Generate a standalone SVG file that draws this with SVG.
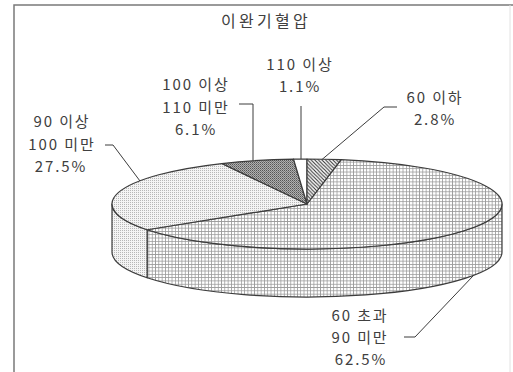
<svg xmlns="http://www.w3.org/2000/svg" width="513" height="372" viewBox="0 0 513 372">
<style>
.lbl{font-family:"Noto Sans CJK KR","Liberation Sans",sans-serif;font-size:15px;fill:#404040;text-anchor:middle;letter-spacing:1.9px}
.ttl{font-family:"Noto Sans CJK KR","Liberation Sans",sans-serif;font-size:16px;fill:#404040;text-anchor:middle;letter-spacing:3.3px}
.edge{stroke:#3c3c3c;stroke-width:1.2;stroke-linejoin:round}
.lead{fill:none;stroke:#3c3c3c;stroke-width:1}
</style>
<defs>
<pattern id="grid" width="3.3" height="3.3" patternUnits="userSpaceOnUse">
<rect width="3.3" height="3.3" fill="#fff"/>
<path d="M0,0.4H3.3M0.4,0V3.3" stroke="#9a9a9a" stroke-width="0.8"/>
</pattern>
<pattern id="dots" width="2" height="2" patternUnits="userSpaceOnUse">
<rect width="2" height="2" fill="#f4f4f4"/>
<rect width="0.9" height="0.9" fill="#a8a8a8"/>
</pattern>
<pattern id="dark" width="2" height="2" patternUnits="userSpaceOnUse">
<rect width="2" height="2" fill="#b0b0b0"/>
<rect width="1" height="1" fill="#555"/>
<rect x="1" y="1" width="1" height="1" fill="#7a7a7a"/>
</pattern>
<pattern id="hatch" width="3.6" height="3.6" patternUnits="userSpaceOnUse">
<rect width="3.6" height="3.6" fill="#fff"/>
<path d="M-1,-1L4.6,4.6M-1,2.6L1,4.6M2.6,-1L4.6,1" stroke="#333" stroke-width="1.1"/>
</pattern>
</defs>
<rect width="513" height="372" fill="#fff"/>
<g id="frame">
<path d="M14,372V5H513" fill="none" stroke="#7a7a7a" stroke-width="1.5"/>
<path d="M510,5V372" fill="none" stroke="#e2e2e2" stroke-width="1"/>
</g>
<text class="ttl" x="266" y="27">이완기혈압</text>
<g id="slice-60-90">
<path class="edge" fill="url(#grid)" d="M502,204A195,45 0 0 1 147.1,229.76L147.1,277.76A195,45 0 0 0 502,252Z"/>
<path class="edge" fill="url(#grid)" d="M307,204L341.13,159.69A195,45 0 1 1 147.1,229.76Z"/>
</g>
<g id="slice-90-100">
<path class="edge" fill="url(#dots)" d="M147.1,229.76A195,45 0 0 1 112,204L112,252A195,45 0 0 0 147.1,277.76Z"/>
<path class="edge" fill="url(#dots)" d="M307,204L147.1,229.76A195,45 0 0 1 221.77,163.53Z"/>
</g>
<g id="slice-100-110">
<path class="edge" fill="url(#dark)" d="M307,204L221.77,163.53A195,45 0 0 1 293.53,159.11Z"/>
</g>
<g id="slice-110">
<path class="edge" fill="#fff" d="M307,204L293.53,159.11A195,45 0 0 1 307,159Z"/>
</g>
<g id="slice-60">
<path class="edge" fill="url(#hatch)" d="M307,204L307,159A195,45 0 0 1 341.13,159.69Z"/>
</g>
<g id="connectors">
<path class="lead" d="M301,106V159"/>
<path class="lead" d="M397,107H384L322,159.5"/>
<path class="lead" d="M239,104H253V161"/>
<path class="lead" d="M105,145H113L140,181"/>
<path class="lead" d="M404,337H415L473,276"/>
</g>
<g id="label-110">
<text class="lbl" x="300" y="70">110 이상</text>
<text class="lbl" x="300" y="92">1.1%</text>
</g>
<g id="label-60">
<text class="lbl" x="435" y="103">60 이하</text>
<text class="lbl" x="435" y="125">2.8%</text>
</g>
<g id="label-100-110">
<text class="lbl" x="196" y="90">100 이상</text>
<text class="lbl" x="196" y="113">110 미만</text>
<text class="lbl" x="196" y="135">6.1%</text>
</g>
<g id="label-90-100">
<text class="lbl" x="62" y="127">90 이상</text>
<text class="lbl" x="62" y="150">100 미만</text>
<text class="lbl" x="61" y="172">27.5%</text>
</g>
<g id="label-60-90">
<text class="lbl" x="360" y="321">60 초과</text>
<text class="lbl" x="360" y="343">90 미만</text>
<text class="lbl" x="361" y="365">62.5%</text>
</g>
</svg>
